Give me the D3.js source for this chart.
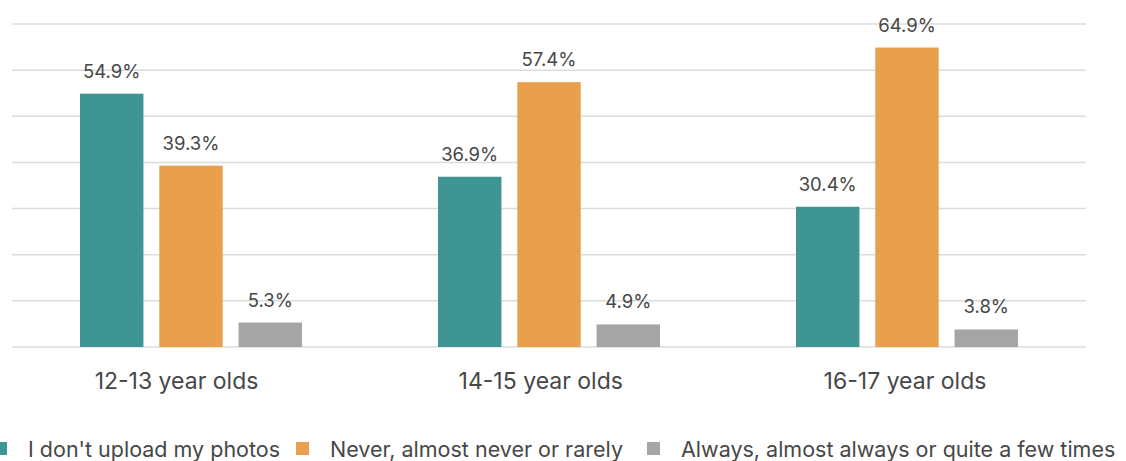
<!DOCTYPE html>
<html><head><meta charset="utf-8">
<script src="https://cdn.jsdelivr.net/npm/d3@7"></script>
<style>body{margin:0;background:#fff;}svg{display:block;font-family:Inter,"Open Sans",sans-serif;}</style>
</head><body>
<svg id="c" width="1126" height="461"></svg>
<script>
const categories = ["12-13 year olds", "14-15 year olds", "16-17 year olds"];
const seriesNames = ["I don't upload my photos", "Never, almost never or rarely", "Always, almost always or quite a few times"];
const seriesColors = ["#3f9494", "#e9a04c", "#a5a5a5"];
const noUpload = [54.9, 36.9, 30.4];
const neverRarely = [39.3, 57.4, 64.9];
const alwaysOften = [5.3, 4.9, 3.8];
const yTicks = [0, 10, 20, 30, 40, 50, 60, 70];

const series = [noUpload, neverRarely, alwaysOften];
const svg = d3.select("#c");
const x0 = d3.scaleBand().domain(categories).range([12, 1086]).paddingInner(0).paddingOuter(0);
const x1 = d3.scaleBand().domain(d3.range(3)).range([68, 358 - 68]).paddingInner(0.2).paddingOuter(0);
const xLabel = d3.scalePoint().domain(categories).range([176.5, 905]);
const y = d3.scaleLinear().domain([0, 70]).range([347, 24]);

svg.append("g").selectAll("line").data(yTicks).join("line")
  .attr("x1", 12).attr("x2", 1086)
  .attr("y1", d => y(d)).attr("y2", d => y(d))
  .attr("stroke", "#dcdcdc").attr("stroke-width", 1.5);

const g = svg.append("g").selectAll("g").data(categories).join("g")
  .attr("transform", d => `translate(${x0(d)},0)`);

g.each(function(cat, ci) {
  const sel = d3.select(this);
  series.forEach((s, si) => {
    const v = s[ci];
    sel.append("rect")
      .attr("x", x1(si)).attr("width", x1.bandwidth())
      .attr("y", y(v)).attr("height", y(0) - y(v))
      .attr("fill", seriesColors[si]);
    sel.append("text")
      .attr("x", x1(si) + x1.bandwidth() / 2).attr("y", y(v) - 16)
      .attr("text-anchor", "middle").attr("fill", "#474747")
      .attr("font-size", 18.5).text(v.toFixed(1) + "%");
  });
});

svg.append("g").selectAll("text").data(categories).join("text")
  .attr("x", d => xLabel(d)).attr("y", 389)
  .attr("text-anchor", "middle").attr("fill", "#474747").attr("font-size", 23)
  .text(d => d);

const legX = [-6, 296, 647];
const leg = svg.append("g").selectAll("g").data(seriesNames).join("g")
  .attr("transform", (d, i) => `translate(${legX[i]},0)`);
leg.append("rect").attr("x", 0).attr("y", 442).attr("width", 13).attr("height", 13)
  .attr("fill", (d, i) => seriesColors[i]);
leg.append("text").attr("x", 34).attr("y", 457).attr("fill", "#474747").attr("font-size", 21.5)
  .text(d => d);
</script>
</body></html>
